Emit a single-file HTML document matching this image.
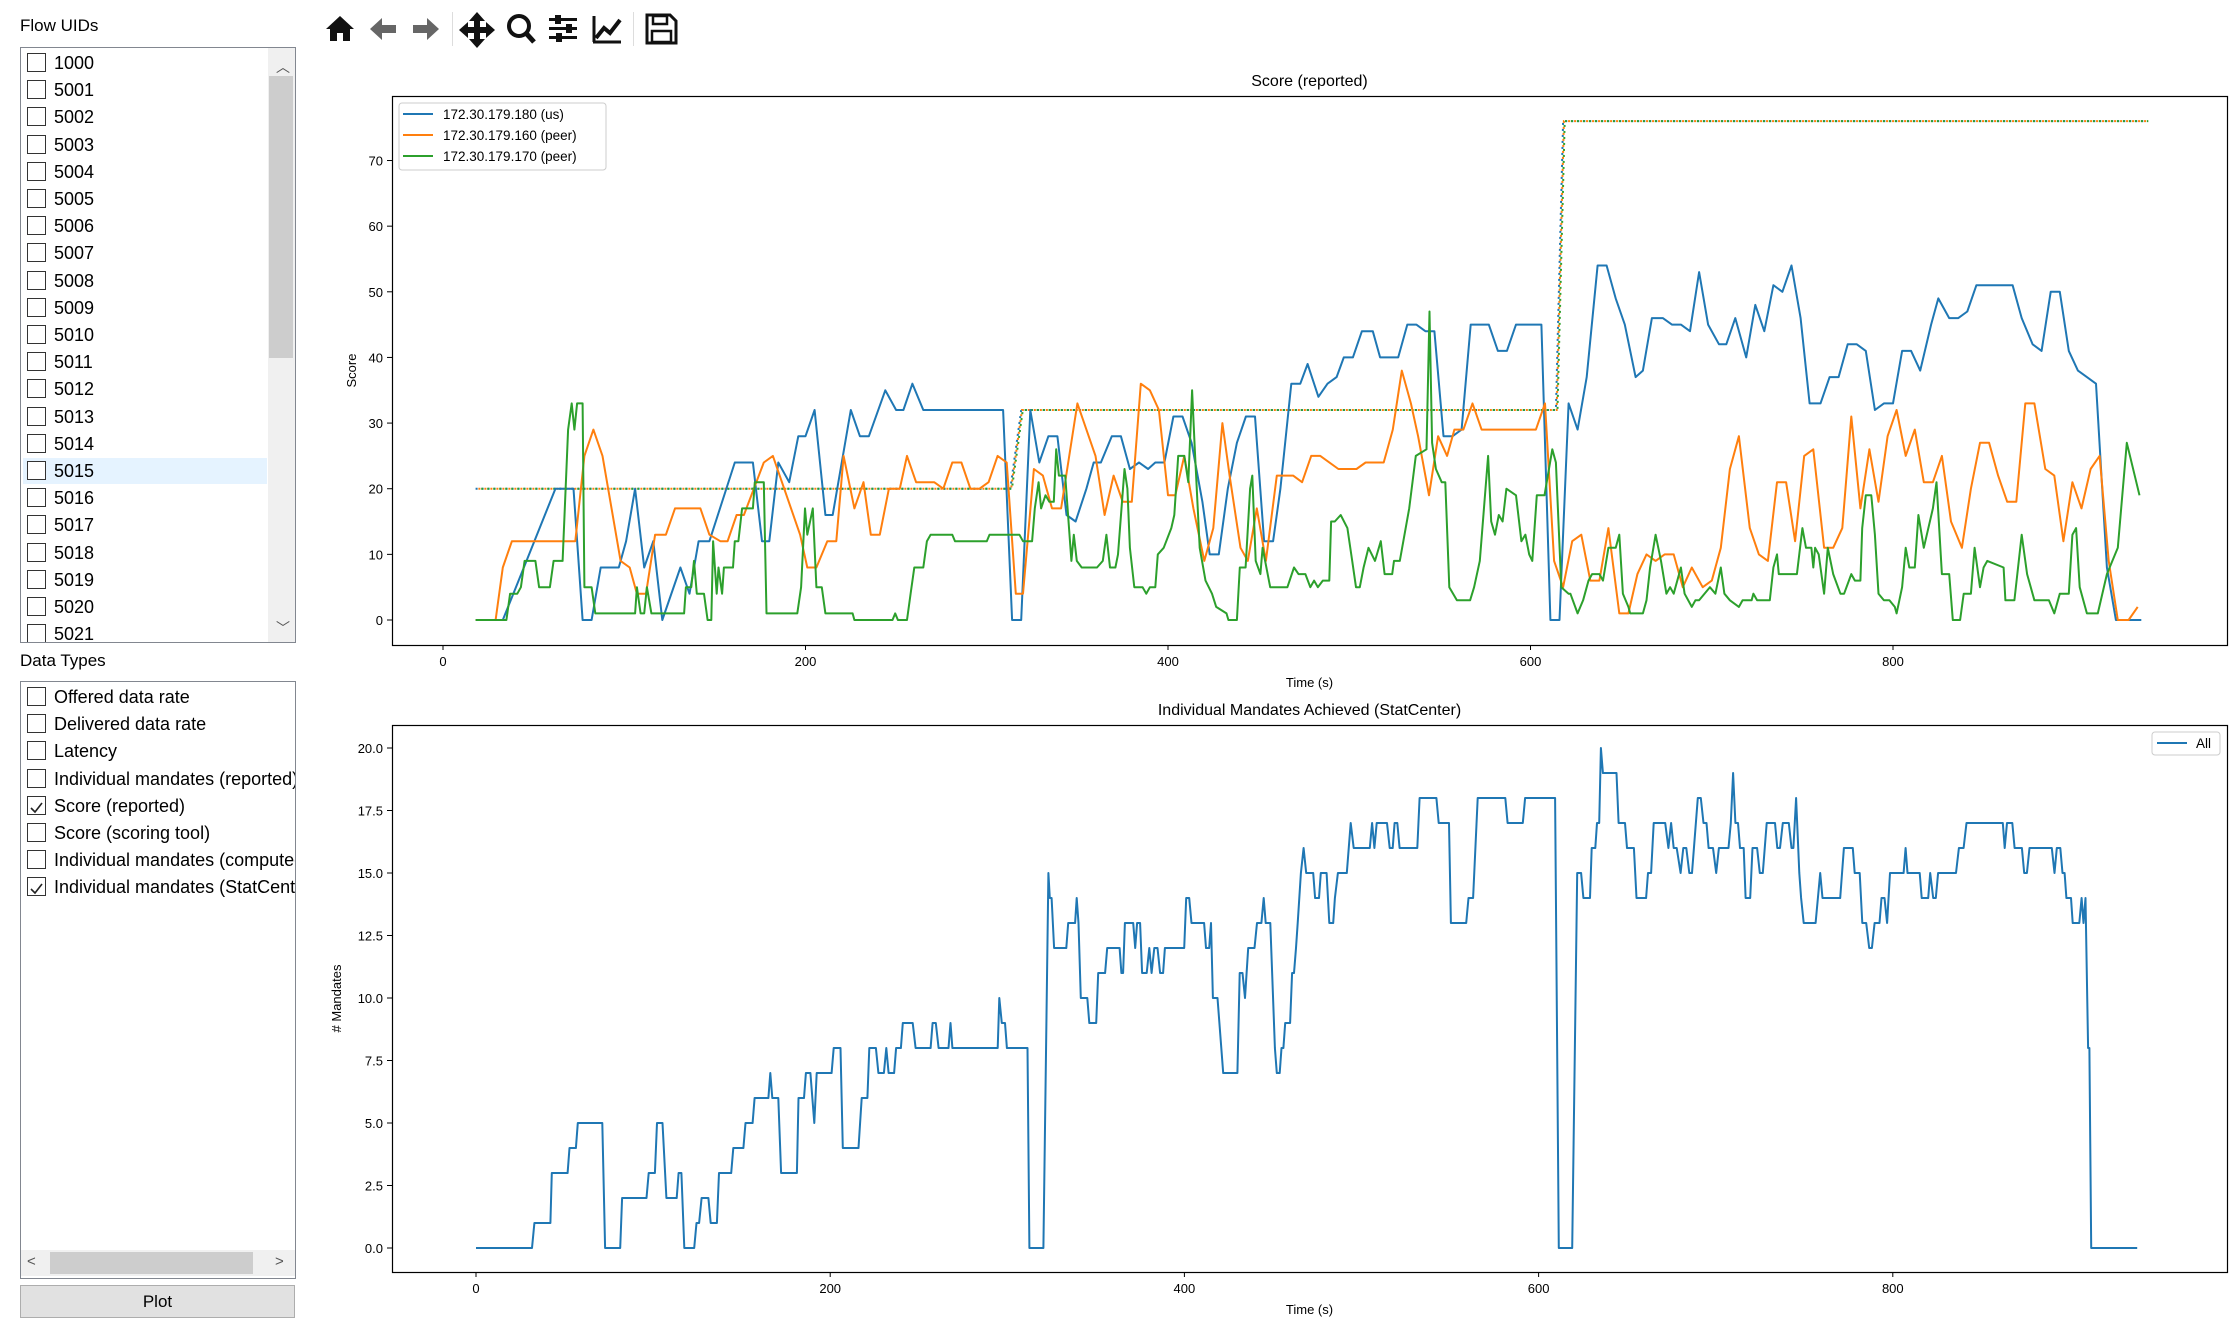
<!DOCTYPE html>
<html><head><meta charset="utf-8">
<style>
body{margin:0;width:2236px;height:1328px;background:#fff;position:relative;overflow:hidden;font-family:"Liberation Sans",sans-serif;}
.abs{position:absolute;}
.lbl{font-size:17px;color:#000;}
.box{border:1px solid #828790;background:#fff;overflow:hidden;}
.row{position:absolute;left:6px;height:26px;font-size:18px;line-height:26px;white-space:nowrap;}
.cb{position:absolute;left:4px;top:3px;width:17px;height:17px;border:1px solid #333;background:#fff;}
.row span{position:absolute;left:31px;top:0;}
.sel{background:#e5f3ff;}
</style></head><body>
<div class="abs lbl" style="left:20px;top:16px">Flow UIDs</div>
<div class="abs box" style="left:20px;top:47px;width:274px;height:594px" id="flowlist">
  <div class="abs" style="left:247px;top:0;width:27px;height:594px;background:#f0f0f0">
    <div class="abs" style="left:8px;top:9px;font-size:14px;color:#555">︿</div>
    <div class="abs" style="left:1px;top:28px;width:24px;height:282px;background:#cdcdcd"></div>
    <div class="abs" style="left:8px;top:570px;font-size:14px;color:#555">﹀</div>
  </div>
</div>
<div class="abs lbl" style="left:20px;top:651px">Data Types</div>
<div class="abs box" style="left:20px;top:681px;width:274px;height:596px" id="typelist">
  <div class="abs" style="left:0;top:568px;width:274px;height:26px;background:#f0f0f0">
    <div class="abs" style="left:6px;top:3px;font-size:15px;color:#555">&lt;</div>
    <div class="abs" style="left:29px;top:2px;width:203px;height:22px;background:#cdcdcd"></div>
    <div class="abs" style="left:254px;top:3px;font-size:15px;color:#555">&gt;</div>
  </div>
</div>
<div class="abs" style="left:20px;top:1285px;width:273px;height:31px;background:#e1e1e1;border:1px solid #adadad;font-size:17px;text-align:center;line-height:31px">Plot</div>

<svg class="abs" style="left:0;top:0" width="2236" height="1328" id="chart">
 <g fill="#111">
  <g><path d="M326 29 L340 16 L354 29 L350 29 L350 41 L343 41 L343 33 L337 33 L337 41 L330 41 L330 29 Z"/></g>
  <g fill="#666"><path d="M370 29 L382 18 L382 25 L396 25 L396 33 L382 33 L382 40 Z"/></g>
  <g fill="#666"><path d="M439 29 L427 18 L427 25 L413 25 L413 33 L427 33 L427 40 Z"/></g>
  <rect x="452" y="12" width="1" height="34" fill="#ddd"/>
  <g><path d="M477 12 L485 21 L480 21 L480 27 L486 27 L486 22 L495 30 L486 38 L486 33 L480 33 L480 39 L485 39 L477 48 L469 39 L474 39 L474 33 L468 33 L468 38 L459 30 L468 22 L468 27 L474 27 L474 21 L469 21 Z"/></g>
  <g><circle cx="519" cy="26" r="10" fill="none" stroke="#111" stroke-width="4"/><path d="M525 32 L534 42" stroke="#111" stroke-width="5"/></g>
  <g><rect x="549" y="18" width="28" height="3"/><rect x="549" y="27" width="28" height="3"/><rect x="549" y="36" width="28" height="3"/><rect x="555" y="15" width="6" height="9"/><rect x="566" y="24" width="6" height="9"/><rect x="556" y="33" width="6" height="9"/></g>
  <g><path d="M593 42 L621 42" stroke="#111" stroke-width="3"/><path d="M594 16 L594 42" stroke="#111" stroke-width="3"/><path d="M596 38 L604 28 L610 33 L620 20" stroke="#111" stroke-width="4" fill="none"/></g>
  <rect x="633" y="12" width="1" height="34" fill="#ddd"/>
  <g><path d="M647 15 L670 15 L676 21 L676 43 L647 43 Z" fill="none" stroke="#111" stroke-width="3"/><rect x="653" y="16" width="14" height="8" fill="none" stroke="#111" stroke-width="2.5"/><rect x="652" y="31" width="19" height="11" fill="none" stroke="#111" stroke-width="2.5"/></g>
 </g>
 <g id="top"></g>
 <g id="bot"></g>
</svg>

<script>
// Flow list + data types
const flowIds = ["1000","5001","5002","5003","5004","5005","5006","5007","5008","5009","5010","5011","5012","5013","5014","5015","5016","5017","5018","5019","5020","5021"];
const typeNames = ["Offered data rate","Delivered data rate","Latency","Individual mandates (reported)","Score (reported)","Score (scoring tool)","Individual mandates (computed)","Individual mandates (StatCenter)"];
const typeChecked = [0,0,0,0,1,0,0,1];
const fl = document.getElementById('flowlist');
flowIds.forEach((id,i)=>{
  const r=document.createElement('div');
  r.className='row'+(id==='5015'?' sel':'');
  r.style.top=(2+27.2*i)+'px'; r.style.left='2px'; r.style.width='244px';
  
  
  r.innerHTML='<div class="cb"></div><span>'+id+'</span>';
  fl.appendChild(r);
});
const tl = document.getElementById('typelist');
typeNames.forEach((n,i)=>{
  const r=document.createElement('div');
  r.className='row';
  r.style.top=(2+27.2*i)+'px'; r.style.left='2px';
  
  
  r.innerHTML='<div class="cb">'+(typeChecked[i]?'<svg width="17" height="17"><path d="M3 9 L7 13 L14 4" stroke="#222" stroke-width="1.6" fill="none"/></svg>':'')+'</div><span>'+n+'</span>';
  tl.appendChild(r);
});

// ===== Top chart data =====
const xTicksTop = [0,200,400,600,800];
const yTicksTop = [0,10,20,30,40,50,60,70];
const blueT = [18,33,62,72,77,82,87,97,101,106,111,116,121,131,136,141,147,161,171,176,180,185,191,196,200,205,211,215,225,230,235,244,250,254,259,265,309,314,319,324,329,334,339,344,349,355,359,363,369,374,379,384,389,393,398,403,408,413,419,423,428,433,438,443,448,453,458,462,468,473,477,483,488,493,497,502,507,513,517,527,532,537,542,547,552,557,562,567,577,582,587,592,606,611,616,621,626,631,637,642,647,652,658,662,667,673,678,683,688,693,698,704,708,713,719,724,729,734,739,744,749,754,760,765,770,775,780,785,790,795,800,805,810,815,821,825,831,836,841,846,866,871,877,882,887,892,897,902,907,912,918,923,937];
const blueV = [0,0,20,20,0,0,8,8,12,20,8,12,0,8,4,12,12,24,24,12,12,24,21,28,28,32,16,16,32,28,28,35,32,32,36,32,32,0,0,32,24,28,28,16,15,20,24,24,28,28,23,24,23,24,24,31,31,27,18,10,10,20,27,31,31,12,12,20,36,36,39,34,36,37,40,40,44,44,40,40,45,45,44,44,28,28,29,45,45,41,41,45,45,0,0,33,29,37,54,54,49,45,37,38,46,46,45,45,44,53,45,42,42,46,40,48,44,51,50,54,46,33,33,37,37,42,42,41,32,33,33,41,41,38,45,49,46,46,47,51,51,46,42,41,50,50,41,38,37,36,8,0,0];
const orangeT = [18,29,33,38,73,78,83,88,98,103,107,112,117,123,128,142,147,153,157,162,166,177,182,197,201,206,212,217,221,227,232,236,241,246,252,256,261,271,276,281,286,291,296,301,306,311,316,320,326,331,336,341,350,355,360,365,370,375,380,385,390,395,400,404,409,414,420,425,430,434,440,444,449,454,460,469,474,479,484,494,504,509,519,524,529,534,538,544,549,554,558,563,568,573,603,608,613,618,623,628,633,638,643,649,654,659,664,669,674,679,684,689,695,700,705,710,715,721,726,731,736,741,746,751,756,762,767,772,777,782,787,792,797,802,807,812,817,822,827,832,838,843,848,853,858,863,868,873,878,884,889,894,899,904,909,914,919,924,930,935];
const orangeV = [0,0,8,12,12,25,29,25,9,8,4,4,13,13,17,17,13,12,12,16,16,24,25,13,8,8,12,12,25,17,21,13,13,20,20,25,21,21,20,24,24,20,20,21,25,24,4,4,23,22,17,17,33,29,25,16,22,18,18,36,35,32,19,19,25,17,9,14,30,22,11,9,17,9,22,22,21,25,25,23,23,24,24,29,38,33,28,19,28,25,29,29,33,29,29,33,9,5,12,13,6,6,14,1,1,7,10,9,10,10,5,8,5,6,11,23,28,14,10,9,21,21,12,25,26,11,11,14,31,17,26,18,28,32,25,29,21,21,25,15,11,20,27,27,22,18,18,33,33,23,22,12,21,17,23,25,9,0,0,2];
const greenT = [18,35,37,41,43,45,51,53,59,61,66,69,71,72.5,74,77,78,82,84,106,107,109,111,112.5,115,133,134,137,138.5,140,144,146,148,149,151,152,154,155,160,161,163,165,171,172,177,178.5,195.5,197.6,199.7,201,204,206,209,211,226,227,248,249.5,251,256,258,260,265,267,269,281,282.5,300,301.5,318,320,325,326.5,328.6,330,332.4,334.5,337,338.3,339.8,343.3,346.7,348,349.7,352.4,360.8,364,366,368,371,372.4,376,377.6,379,381.4,386,388,390,393,394.4,397.6,401.8,403.5,405.6,409,411.2,413.3,414.8,417.5,420.7,424.3,426.6,432.3,433.3,438,439.6,442.8,445.3,446.5,448.4,451,452.2,456.4,465.9,469.5,472,475.8,478.5,480.6,482.7,485.4,489,490,492,495.3,499,501.6,503.7,505.8,507.9,510.6,514.2,517.4,519.5,523.7,524.7,527.9,533.1,536.7,542.6,544.3,545.7,547.8,551,553,555.2,559.4,566.7,568.9,572,576.6,578.3,580.4,582.5,584.6,586.7,592,595,597.2,599.3,601,603.5,607.7,612,614,617,621,622,626,629,631,632,634,638,640,643,647,649,651,654,655,662,664,666,669,672,675,677,679,683,685,689,691,693,699,702,705,707,710,715,717,722,723,725,732,734,736,737,747,750,752,755,756,757,759,762,764,767,771,773,777,779,782,783,785,788,790,792,795,798,801,802,805,807,809,812,814,817,822,824,827,831,833,837,839,843,845,848,850,852,861,862,867,871,874,878,886,889,892,897,899,901,903,907,913,918,924,929,936];
const greenV = [0,0,4,4,5,9,9,5,5,9,9,29,33,29,33,33,5,5,1,1,5,1,1,5,1,1,5,5,9,4,4,0,0,12,4,8,4,8,8,12,12,17,17,21,21,1,1,5,17,13,17,5,5,1,1,0,0,1,0,0,4,8,8,12,13,13,12,12,13,13,12,12,17,21,17,19,18,18,26,22,22,9,13,9,8,8,9,13,8,8,10,23,20,11,5,5,4,5,5,10,11,14,16,25,25,21,35,26,11,6,4,2,1,0,0,8,8,20,22,9,7,11,5,5,8,7,7,5,6,5,6,6,15,15,16,14,9,5,5,8,11,9,12,7,7,9,9,17,25,26,47,27,23,21,21,5,3,3,5,9,25,15,13,16,15,20,19,12,13,10,9,19,19,26,24,5,4,4,1,3,5,6,7,7,6,11,11,13,4,2,1,1,3,8,13,9,4,5,4,8,4,2,3,3,5,4,8,4,3,2,3,3,4,3,3,8,10,7,7,14,11,11,8,11,10,4,11,7,4,4,7,6,6,14,19,19,13,4,3,3,2,1,5,11,8,8,16,11,17,21,7,7,0,0,4,4,11,5,8,9,8,3,3,13,7,3,3,1,4,4,13,14,5,1,1,7,11,27,19];
const thrT = [18,313,319,614,618,940];
const thrV = [20,20,32,32,76,76];

// ===== Bottom chart data =====
const xTicksBot = [0,200,400,600,800];
const yTicksBot = [0,2.5,5,7.5,10,12.5,15,17.5,20];
const mandT = [0,31.6,33,42,42.8,51.7,52.8,56.4,57.5,71.3,72.9,81.4,82.5,96.3,97.5,101,102.2,105.3,107.5,113.3,114.4,116,117.6,123.2,124.5,126,127.4,131.2,132.5,136,137.2,144.1,145.3,151,152.2,156.2,157.3,165.1,166.2,167.3,170.7,172.3,181.2,182.1,185.2,186.3,188.8,191,192.4,200.8,202,205.8,207.1,216,217.8,221,222.1,225.8,227.2,230.3,231.7,233,236.1,237.2,239.9,241,246.6,248.2,256.7,257.8,259.6,261.2,266.8,267.9,269,294.6,295.5,296.9,298.7,299.8,311.4,312.5,320.4,323.2,324,325,326.4,333.3,334.4,338.3,339.2,340.2,341.5,345.2,346.3,350.2,351.3,355.2,356.4,363.4,364.4,365.4,366.4,371.1,372.2,373.3,375,376.1,378.7,380.2,381.5,383,384.8,386.3,388,389,399.9,401,402.7,404,411.1,412.2,414,415,416.1,418.7,421.9,429.9,431.2,432.8,434.2,436,439.6,441,443.5,444.8,445.9,448.5,451.1,452.2,453.8,454.8,455.9,456.9,459.7,460.8,461.9,463,464,465.8,467.3,468.8,472.7,473.8,476,477,480.3,481.8,484,485,486.7,491.7,493.9,495.6,504.7,506,507.3,508.6,514.4,515.9,517.6,518.7,520.2,521.5,531.5,532.8,542.3,543.6,549.4,550.5,559.1,560.4,563,565.6,581.2,582.5,591.1,592.4,609.3,611.4,619,621.8,624,625.3,629,630,632,633,634.2,635.2,636.3,644,645.2,648.8,649.9,653.8,655.3,660.7,661.8,663.5,665,671.5,673.3,674.8,676.3,678,680.2,681.7,683.4,685.1,686.6,689.9,691.6,693.1,694.8,696,698.5,700.3,701.8,707.2,708.5,709.8,711.1,712.6,713.7,715.8,716.9,719.5,720.8,723.4,724.9,726.6,728.8,733.5,734.8,736.3,737.9,741.3,742.8,743.9,745.4,747.2,748.2,749.7,756.4,759,760.3,770.3,772.4,777.4,778.5,781.3,782.8,785,786.7,788.2,789.7,792.5,793.6,795.3,796.8,798.4,806.1,807.2,808.3,815.2,816.3,820,821.1,822.8,824.3,825.6,835.7,837.3,840,841.6,862.1,863.2,864.5,867.5,868.8,872.9,874.2,875.7,877.2,889.8,891.3,892.6,894.6,895.8,897,898,900.6,901.6,905.3,906.6,907.7,908.8,910.3,911,912,938];
const mandV = [0,0,1,1,3,3,4,4,5,5,0,0,2,2,3,3,5,5,2,2,3,3,0,0,1,1,2,2,1,1,3,3,4,4,5,5,6,6,7,6,6,3,3,6,6,7,7,5,7,7,8,8,4,4,6,6,8,8,7,7,8,7,7,8,8,9,9,8,8,9,9,8,8,9,8,8,10,9,9,8,8,0,0,15,14,14,12,12,13,13,14,13,10,10,9,9,11,11,12,12,11,11,13,13,12,13,13,11,11,12,11,12,12,11,11,12,12,14,14,13,13,12,12,13,10,10,7,7,11,11,10,12,12,13,13,14,13,13,8,7,7,8,8,9,9,11,11,12,13,15,16,15,15,14,14,15,15,13,13,14,15,15,17,16,16,17,16,17,17,16,16,17,17,16,16,18,18,17,17,13,13,14,14,18,18,17,17,18,18,0,0,15,15,14,14,16,16,17,17,20,19,19,17,17,16,16,14,14,15,15,17,17,16,17,16,16,15,16,16,15,15,18,18,17,17,16,16,15,16,16,17,19,17,17,16,16,14,14,16,16,15,15,17,17,16,16,17,17,16,16,18,15,14,13,13,15,14,14,16,16,15,15,13,13,12,12,13,13,14,14,13,15,15,16,15,15,14,14,15,14,14,15,15,16,16,17,17,16,17,17,16,16,15,15,16,16,15,16,16,15,15,14,14,13,13,14,13,14,8,8,0,0];

const NS='http://www.w3.org/2000/svg';
function mk(parent, tag, attrs){ const e=document.createElementNS(NS,tag); for(const k in attrs) e.setAttribute(k,attrs[k]); parent.appendChild(e); return e; }
function txt(parent, x,y,s,size,anchor,extra){ const e=mk(parent,'text',Object.assign({x:x,y:y,'font-size':size,'text-anchor':anchor||'middle','font-family':'Liberation Sans, sans-serif',fill:'#000'},extra||{})); e.textContent=s; return e; }
function pathD(ts,vs,sx,sy){ return ts.map((t,i)=>(i?'L':'M')+sx(t).toFixed(1)+' '+sy(vs[i]).toFixed(1)).join(''); }

function axes(g, L,T,R,B, sx, sy, xt, yt, ylab, title, fmt){
  const titleEl=txt(g,(L+R)/2,T-10,title,16);
   
  xt.forEach(v=>{ const x=sx(v); mk(g,'line',{x1:x,x2:x,y1:B,y2:B+5,stroke:'#000'});
    const t=txt(g,x,B+21,String(v),13);   });
  yt.forEach(v=>{ const y=sy(v); mk(g,'line',{x1:L-5,x2:L,y1:y,y2:y,stroke:'#000'});
    const t=txt(g,L-9,y+5,fmt(v),13,'end');   });
  const xl=txt(g,(L+R)/2,B+42,'Time (s)',13);  
  const yl=txt(g,0,0,ylab,13,'middle',{transform:'translate('+(ylab==='Score'?356:341)+','+((T+B)/2)+') rotate(-90)'});
   
}

// Top chart
(function(){
  const g=document.getElementById('top');
  const L=392,T=96,R=2227,B=645;
  const sx=t=>443+t*1.8125, sy=v=>620-v*6.564;
  axes(g,L,T,R,B,sx,sy,xTicksTop,yTicksTop,'Score','Score (reported)',v=>String(v));
  const clip=mk(g,'clipPath',{id:'c1'}); mk(clip,'rect',{x:L,y:T,width:R-L,height:B-T});
  const cg=mk(g,'g',{'clip-path':'url(#c1)'});
  const cols=['#1f77b4','#ff7f0e','#2ca02c'];
  const names=['threshold-us','threshold-peer-160','threshold-peer-170'];
  cols.forEach((c,i)=>{
    const p=mk(cg,'path',{d:pathD(thrT,thrV,t=>sx(t)+i*0.8,sy),stroke:c,'stroke-width':2,fill:'none','stroke-dasharray':'2 4','stroke-dashoffset':-2*i});
     
  });
  const s1=mk(cg,'path',{d:pathD(blueT,blueV,sx,sy),stroke:cols[0],'stroke-width':2,fill:'none','stroke-linejoin':'round'});
   
  const s2=mk(cg,'path',{d:pathD(orangeT,orangeV,sx,sy),stroke:cols[1],'stroke-width':2,fill:'none','stroke-linejoin':'round'});
   
  const s3=mk(cg,'path',{d:pathD(greenT,greenV,sx,sy),stroke:cols[2],'stroke-width':2,fill:'none','stroke-linejoin':'round'});
   
  const frame=mk(g,'rect',{x:L+0.5,y:T+0.5,width:R-L,height:B-T,fill:'none',stroke:'#000','stroke-width':1.2});
   
  const lg=mk(g,'g',{});
   
  mk(lg,'rect',{x:399,y:103,width:207,height:67,rx:3,fill:'#fff',stroke:'#ccc'});
  const labs=['172.30.179.180 (us)','172.30.179.160 (peer)','172.30.179.170 (peer)'];
  labs.forEach((l,i)=>{
    const y=114+21*i;
    const e=mk(lg,'g',{});  
    mk(e,'line',{x1:403,x2:433,y1:y,y2:y,stroke:cols[i],'stroke-width':2});
    txt(e,443,y+5,l,13.5,'start');
  });
})();

// Bottom chart
(function(){
  const g=document.getElementById('bot');
  const L=392,T=725,R=2227,B=1272;
  const sx=t=>476+t*1.771, sy=v=>1248-v*25;
  axes(g,L,T,R,B,sx,sy,xTicksBot,yTicksBot,'# Mandates','Individual Mandates Achieved (StatCenter)',v=>v.toFixed(1));
  const clip=mk(g,'clipPath',{id:'c2'}); mk(clip,'rect',{x:L,y:T,width:R-L,height:B-T});
  const cg=mk(g,'g',{'clip-path':'url(#c2)'});
  const s=mk(cg,'path',{d:pathD(mandT,mandV,sx,sy),stroke:'#1f77b4','stroke-width':2,fill:'none','stroke-linejoin':'round'});
   
  const frame=mk(g,'rect',{x:L+0.5,y:T+0.5,width:R-L,height:B-T,fill:'none',stroke:'#000','stroke-width':1.2});
   
  const lg=mk(g,'g',{});
   
  mk(lg,'rect',{x:2152,y:732,width:68,height:23,rx:3,fill:'#fff',stroke:'#ccc'});
  mk(lg,'line',{x1:2157,x2:2187,y1:743,y2:743,stroke:'#1f77b4','stroke-width':2});
  txt(lg,2196,748,'All',13.5,'start');
})();
</script>
</body></html>
